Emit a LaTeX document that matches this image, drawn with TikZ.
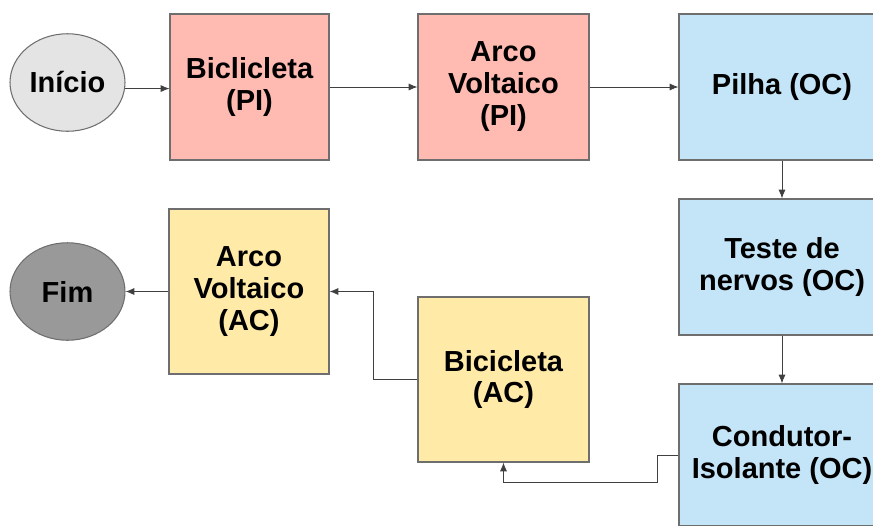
\documentclass[tikz,border=0pt]{standalone}
\usepackage{fontspec}
\setmainfont{Liberation Sans}
\usetikzlibrary{arrows.meta, shapes.geometric}

\definecolor{pinkbox}{HTML}{FFBAB2}
\definecolor{bluebox}{HTML}{C4E4F7}
\definecolor{yellowbox}{HTML}{FFEAA8}
\definecolor{startgray}{HTML}{E4E4E4}
\definecolor{endgray}{HTML}{999999}
\definecolor{edgegray}{HTML}{6E6E6E}

\begin{document}
\begin{tikzpicture}[
    x=0.02cm, y=-0.02cm,
    every node/.style={
        draw=edgegray,
        line width=0.6pt,
        align=center,
        font=\fontsize{16.5}{18.2}\selectfont\bfseries,
        inner sep=0pt
    },
    box/.style={rectangle, minimum width=#1},
    oval/.style={ellipse, minimum width=2.3cm, minimum height=1.95cm},
    arrow/.style={-{Latex[length=5pt,width=4pt]}, draw=black!75, line width=0.5pt}
]
\useasboundingbox (0,0) rectangle (873,525);
\clip (0,0) rectangle (873,525);

% Nodes
\node[oval, fill=startgray] (inicio) at (67.5,82.5) {Início};
\node[box=3.18cm, minimum height=2.92cm, fill=pinkbox] (bicpi) at (249.5,87) {Biclicleta\\(PI)};
\node[box=3.42cm, minimum height=2.92cm, fill=pinkbox] (arcopi) at (503.5,87) {Arco\\Voltaico\\(PI)};
\node[box=4.12cm, minimum height=2.92cm, fill=bluebox] (pilha) at (782,87) {Pilha (OC)};
\node[box=4.12cm, minimum height=2.72cm, fill=bluebox] (teste) at (782,267) {Teste de\\nervos (OC)};
\node[box=4.12cm, minimum height=2.84cm, fill=bluebox] (condutor) at (782,455) {Condutor-\\Isolante (OC)};
\node[box=3.42cm, minimum height=3.3cm, fill=yellowbox] (bicac) at (503.5,379.5) {Bicicleta\\(AC)};
\node[box=3.2cm, minimum height=3.3cm, fill=yellowbox] (arcoac) at (249,291.5) {Arco\\Voltaico\\(AC)};
\node[oval, fill=endgray] (fim) at (67.5,291.5) {Fim};

% Bend points
\coordinate (c1) at (657,482);
\coordinate (c2) at (373,291.5);

% Top row
\draw[arrow] (inicio.-6) -- (inicio.-6 -| bicpi.west);
\draw[arrow] (bicpi.east) -- (arcopi.west);
\draw[arrow] (arcopi.east) -- (pilha.west);

% Right column
\draw[arrow] (pilha.south) -- (teste.north);
\draw[arrow] (teste.south) -- (condutor.north);

% Back to the left
\draw[arrow] (condutor.west) -| (c1) -| (bicac.south);
\draw[arrow] (bicac.west) -| (c2) -- (arcoac.east);
\draw[arrow] (arcoac.west) -- (fim.east);

\end{tikzpicture}
\end{document}
